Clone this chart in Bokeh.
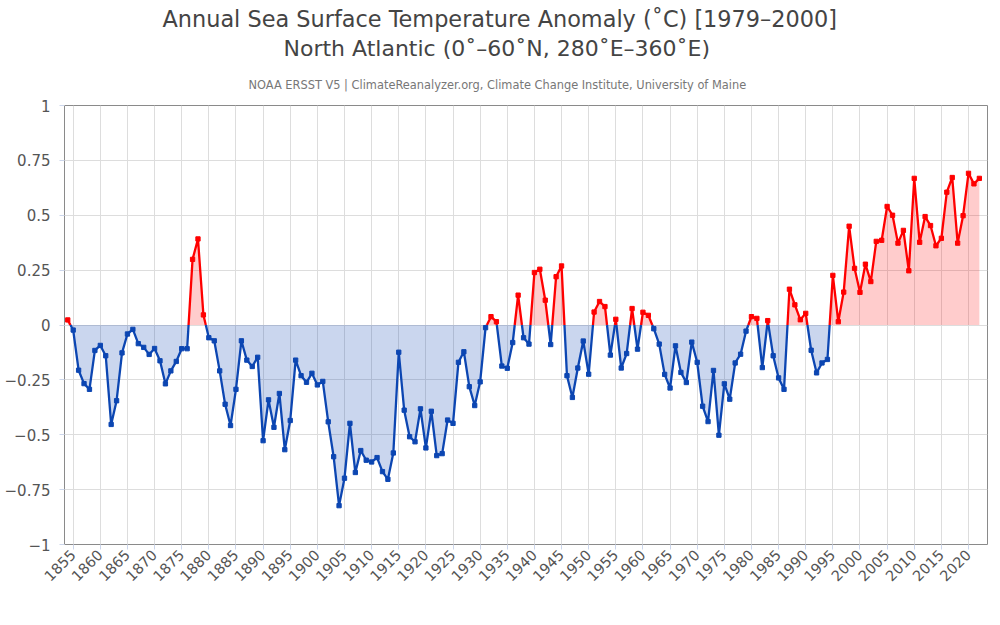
import numpy as np
from bokeh.plotting import figure
from bokeh.models import Range1d, FixedTicker, Title
from bokeh.embed import file_html
from bokeh.resources import INLINE

years = list(range(1854, 2023))
anomaly = [
    0.023, -0.023, -0.206, -0.267, -0.293, -0.116, -0.093, -0.140, -0.453, -0.345,   # 1854-1863
    -0.127, -0.041, -0.020, -0.085, -0.102, -0.134, -0.107, -0.163, -0.268, -0.209,  # 1864-1873
    -0.166, -0.108, -0.108, 0.299, 0.392, 0.046, -0.058, -0.072, -0.209, -0.361,      # 1874-1883
    -0.458, -0.293, -0.072, -0.160, -0.189, -0.147, -0.527, -0.341, -0.466, -0.312,  # 1884-1893
    -0.568, -0.435, -0.160, -0.231, -0.261, -0.220, -0.273, -0.257, -0.441, -0.600,  # 1894-1903
    -0.823, -0.698, -0.448, -0.672, -0.572, -0.616, -0.624, -0.604, -0.668, -0.703,  # 1904-1913
    -0.583, -0.124, -0.388, -0.509, -0.532, -0.382, -0.560, -0.393, -0.595, -0.586,  # 1914-1923
    -0.433, -0.448, -0.170, -0.122, -0.281, -0.367, -0.259, -0.012, 0.038, 0.015,    # 1924-1933
    -0.187, -0.197, -0.080, 0.136, -0.058, -0.087, 0.239, 0.254, 0.113, -0.089,      # 1934-1943
    0.220, 0.269, -0.231, -0.330, -0.196, -0.073, -0.224, 0.059, 0.107, 0.084,       # 1944-1953
    -0.137, 0.026, -0.196, -0.130, 0.075, -0.110, 0.058, 0.044, -0.017, -0.087,      # 1954-1963
    -0.225, -0.287, -0.095, -0.216, -0.262, -0.078, -0.170, -0.370, -0.440, -0.207,  # 1964-1973
    -0.502, -0.268, -0.338, -0.173, -0.133, -0.028, 0.038, 0.030, -0.194, 0.020,     # 1974-1983
    -0.140, -0.241, -0.293, 0.163, 0.092, 0.024, 0.053, -0.115, -0.218, -0.173,      # 1984-1993
    -0.157, 0.226, 0.015, 0.150, 0.450, 0.258, 0.149, 0.277, 0.198, 0.381,           # 1994-2003
    0.386, 0.540, 0.500, 0.373, 0.431, 0.247, 0.668, 0.377, 0.494, 0.453,            # 2004-2013
    0.361, 0.395, 0.605, 0.672, 0.373, 0.498, 0.691, 0.643, 0.668,                   # 2014-2022
]

x_ticks = list(range(1855, 2021, 5))
y_ticks = [-1, -0.75, -0.5, -0.25, 0, 0.25, 0.5, 0.75, 1]
y_tick_labels = ["\u22121", "\u22120.75", "\u22120.5", "\u22120.25", "0", "0.25", "0.5", "0.75", "1"]

title_1 = "Annual Sea Surface Temperature Anomaly (\u02daC) [1979\u20132000]"
title_2 = "North Atlantic (0\u02da\u201360\u02daN, 280\u02daE\u2013360\u02daE)"
subtitle = "NOAA ERSST V5 | ClimateReanalyzer.org, Climate Change Institute, University of Maine"

POS_LINE = "#ff0000"
NEG_LINE = "#0c46b2"
FONT = "DejaVu Sans"

# insert zero crossings so the colour changes exactly at the threshold
xs, ys = [], []
for i in range(len(years)):
    if i > 0:
        a, b = anomaly[i - 1], anomaly[i]
        if (a > 0 > b) or (a < 0 < b):
            t = a / (a - b)
            xs.append(years[i - 1] + t * (years[i] - years[i - 1]))
            ys.append(0.0)
    xs.append(years[i])
    ys.append(anomaly[i])
xs = np.array(xs)
ys = np.array(ys)

# split into same-sign polylines
seg_x, seg_y, seg_c = [], [], []
cur_x, cur_y, cur_s = [xs[0]], [ys[0]], None
for k in range(len(xs) - 1):
    s = (ys[k] + ys[k + 1]) >= 0
    if cur_s is None or s == cur_s:
        cur_x.append(xs[k + 1]); cur_y.append(ys[k + 1]); cur_s = s
    else:
        seg_x.append(cur_x); seg_y.append(cur_y); seg_c.append(POS_LINE if cur_s else NEG_LINE)
        cur_x, cur_y, cur_s = [xs[k], xs[k + 1]], [ys[k], ys[k + 1]], s
seg_x.append(cur_x); seg_y.append(cur_y); seg_c.append(POS_LINE if cur_s else NEG_LINE)

W, H = 991, 612
p = figure(width=W, height=H, output_backend="svg", toolbar_location=None,
           x_range=Range1d(1853.4, 2023.5), y_range=Range1d(-1, 1),
           min_border_left=64, min_border_right=4, min_border_top=105, min_border_bottom=68)
p.background_fill_color = "white"
p.border_fill_color = "white"
p.outline_line_color = "#8a8a8a"
p.outline_line_width = 1

# titles (first added = closest to plot)
for txt, size, color, off, stand in [
    (subtitle, "11.4px", "#777777", 184, 28),
    (title_2, "22px", "#444444", 219, 2),
    (title_1, "22.4px", "#444444", 98, 2),
]:
    p.add_layout(Title(text=txt, text_font=FONT, text_font_size=size, text_color=color,
                       text_font_style="normal", align="left", offset=off, standoff=stand), "above")

p.varea(x=xs, y1=0, y2=np.maximum(ys, 0), fill_color=POS_LINE, fill_alpha=0.2)
p.varea(x=xs, y1=0, y2=np.minimum(ys, 0), fill_color=NEG_LINE, fill_alpha=0.22)
p.multi_line(xs=seg_x, ys=seg_y, line_color=seg_c, line_width=2.3, line_join="round")
pt_colors = [POS_LINE if v > 0 else NEG_LINE for v in anomaly]
p.scatter(x=years, y=anomaly, marker="square", size=4.3, fill_color=pt_colors, line_color=pt_colors)

p.xaxis.ticker = FixedTicker(ticks=x_ticks)
p.yaxis.ticker = FixedTicker(ticks=y_ticks)
p.yaxis.major_label_overrides = {t: l for t, l in zip(y_ticks, y_tick_labels)}
p.xaxis.major_label_orientation = np.pi / 4

for ax in (p.xaxis, p.yaxis):
    ax.axis_line_color = None
    ax.major_tick_line_color = "#ccd6eb"
    ax.major_tick_in = 0
    ax.major_tick_out = 5
    ax.minor_tick_line_color = None
    ax.major_label_text_font = FONT
    ax.major_label_text_color = "#555555"
p.yaxis.major_label_text_font_size = "15px"
p.xaxis.major_label_text_font_size = "14.5px"
p.yaxis.major_label_standoff = 9
p.xaxis.major_label_standoff = 3

p.xgrid.ticker = FixedTicker(ticks=x_ticks)
p.ygrid.ticker = FixedTicker(ticks=y_ticks)
p.grid.grid_line_color = "#dddddd"
p.grid.grid_line_width = 1

open("out.html", "w").write(file_html(p, INLINE))
